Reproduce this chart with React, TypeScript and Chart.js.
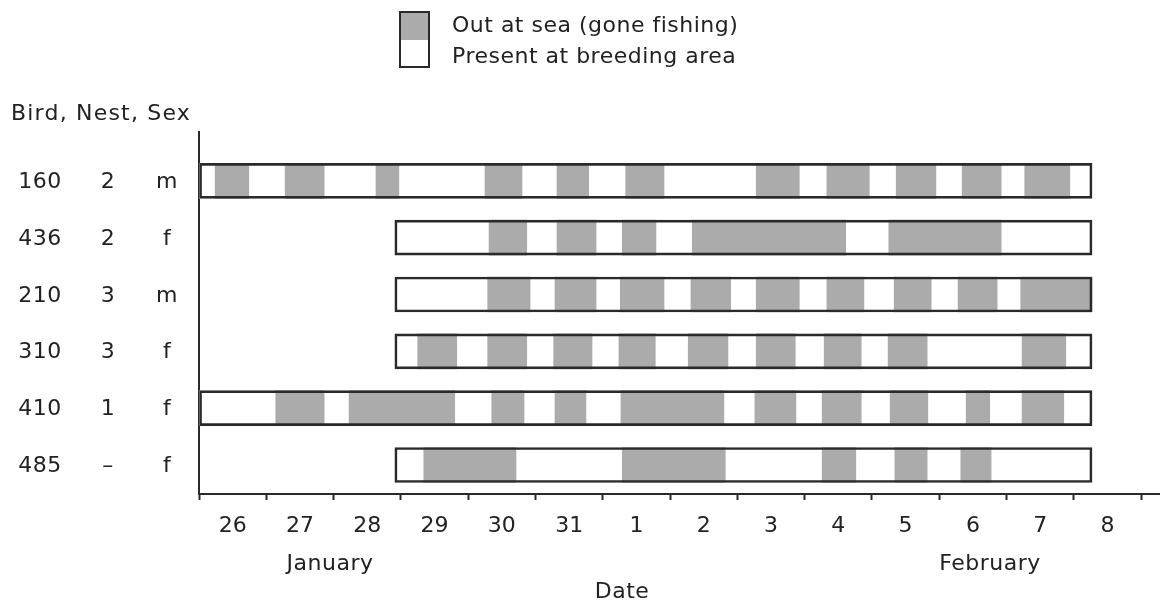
import React, { useEffect, useRef } from 'react';
import { Chart, registerables } from 'chart.js';

Chart.register(...registerables);

// ---- data ----
const dayLabels = ['26', '27', '28', '29', '30', '31', '1', '2', '3', '4', '5', '6', '7', '8'];
const birds = ['160', '436', '210', '310', '410', '485'];
const nests = ['2', '2', '3', '3', '1', '–'];
const sexes = ['m', 'f', 'm', 'f', 'f', 'f'];
// days since start of 26 January
const presence: [number, number][] = [
  [0, 13.27],
  [2.91, 13.27],
  [2.91, 13.27],
  [2.91, 13.27],
  [0, 13.27],
  [2.91, 13.27],
];
const trips160: [number, number][] = [
  [0.24, 0.74], [1.28, 1.86], [2.63, 2.97], [4.25, 4.8], [5.32, 5.79], [6.34, 6.91],
  [8.28, 8.92], [9.33, 9.96], [10.36, 10.95], [11.34, 11.92], [12.27, 12.94],
];
const trips436: [number, number][] = [
  [4.31, 4.87], [5.32, 5.9], [6.29, 6.79], [7.33, 9.61], [10.25, 11.92],
];
const trips210: [number, number][] = [
  [4.29, 4.92], [5.29, 5.9], [6.26, 6.91], [7.31, 7.9], [8.28, 8.92], [9.33, 9.88],
  [10.33, 10.88], [11.28, 11.86], [12.21, 13.27],
];
const trips310: [number, number][] = [
  [3.25, 3.83], [4.29, 4.87], [5.27, 5.84], [6.24, 6.78], [7.27, 7.86], [8.28, 8.86],
  [9.29, 9.84], [10.24, 10.82], [12.23, 12.88],
];
const trips410: [number, number][] = [
  [1.14, 1.86], [2.23, 3.8], [4.35, 4.83], [5.29, 5.75], [6.27, 7.8], [8.26, 8.87],
  [9.26, 9.84], [10.27, 10.83], [11.4, 11.75], [12.23, 12.85],
];
const trips485: [number, number][] = [
  [3.34, 4.71], [6.29, 7.82], [9.26, 9.76], [10.34, 10.82], [11.32, 11.77],
];
const tripsByBird = [trips160, trips436, trips210, trips310, trips410, trips485];

const legendLabels = ['Out at sea (gone fishing)', 'Present at breeding area'];
const monthLabels = ['January', 'February'];
const axisTitle = 'Date';
const headerLabel = 'Bird, Nest, Sex';

const FONT = '"DejaVu Sans", "Liberation Sans", sans-serif';
const TEXT = '#222';
const GRAY = '#ababab';
const LINE = '#2a2a2a';

const extraText = {
  id: 'extraText',
  afterDraw(chart: any) {
    const ctx = chart.ctx as CanvasRenderingContext2D;
    const ys = chart.scales.y;
    ctx.save();
    ctx.fillStyle = TEXT;
    ctx.font = `22px ${FONT}`;
    ctx.textBaseline = 'alphabetic';

    // header
    ctx.textAlign = 'left';
    (ctx as any).letterSpacing = '1.2px';
    ctx.fillText(headerLabel, 11, 120);
    (ctx as any).letterSpacing = '0.5px';

    // row labels
    birds.forEach((b, i) => {
      const py = ys.getPixelForValue(i) + 7;
      ctx.textAlign = 'center';
      ctx.fillText(b, 40, py);
      ctx.fillText(nests[i], 108, py);
      ctx.fillText(sexes[i], 167, py);
    });

    // months and axis title
    ctx.textAlign = 'center';
    ctx.fillText(monthLabels[0], 330, 570);
    ctx.fillText(monthLabels[1], 990, 570);
    ctx.fillText(axisTitle, 622, 598);

    // legend
    const bx = 400, by = 12, bw = 29, bh = 55;
    ctx.fillStyle = '#fff';
    ctx.fillRect(bx, by, bw, bh);
    ctx.fillStyle = GRAY;
    ctx.fillRect(bx, by, bw, 28);
    ctx.strokeStyle = LINE;
    ctx.lineWidth = 2;
    ctx.strokeRect(bx, by, bw, bh);
    ctx.fillStyle = TEXT;
    ctx.textAlign = 'left';
    ctx.fillText(legendLabels[0], 452, 32);
    ctx.fillText(legendLabels[1], 452, 63);
    ctx.restore();
  },
};

export default function App() {
  const ref = useRef<HTMLCanvasElement | null>(null);

  useEffect(() => {
    if (!ref.current) return;
    Chart.defaults.font.family = FONT;
    Chart.defaults.font.size = 22;
    Chart.defaults.color = TEXT;

    const presenceData = presence.map((p, i) => ({ x: p, y: i }));
    const tripData: { x: [number, number]; y: number }[] = [];
    tripsByBird.forEach((trips, i) => trips.forEach((t) => tripData.push({ x: t, y: i })));

    const xTicks: number[] = [];
    for (let v = 0; v <= dayLabels.length; v += 0.5) xTicks.push(v);

    const chart = new Chart(ref.current, {
      type: 'bar',
      data: {
        datasets: [
          {
            label: legendLabels[1] + ' outline',
            data: presenceData as any,
            backgroundColor: 'rgba(0,0,0,0)',
            borderColor: LINE,
            borderWidth: 2,
            borderSkipped: false,
            order: 1,
          },
          {
            label: legendLabels[0],
            data: tripData as any,
            backgroundColor: GRAY,
            borderWidth: 0,
            order: 2,
          },
          {
            label: legendLabels[1],
            data: presenceData as any,
            backgroundColor: '#ffffff',
            borderWidth: 0,
            order: 3,
          },
        ],
      },
      options: {
        indexAxis: 'y',
        animation: false,
        responsive: true,
        maintainAspectRatio: false,
        datasets: { bar: { grouped: false, barThickness: 35 } } as any,
        layout: { padding: { left: 199, top: 132, right: 0, bottom: 54.6 } },
        plugins: { legend: { display: false }, tooltip: { enabled: false }, title: { display: false } },
        scales: {
          x: {
            type: 'linear',
            min: 0,
            max: 14.28,
            offset: false,
            afterBuildTicks: (scale: any) => {
              scale.ticks = xTicks.map((v) => ({ value: v }));
            },
            ticks: {
              autoSkip: false,
              maxRotation: 0,
              padding: 13,
              color: TEXT,
              font: { size: 22, family: FONT },
              callback: (v: any) => {
                const n = Number(v);
                return n % 1 === 0.5 ? dayLabels[Math.floor(n)] : '';
              },
            },
            grid: {
              display: true,
              drawOnChartArea: false,
              drawTicks: true,
              tickLength: 6,
              tickWidth: 2,
              tickColor: (c: any) => (c.tick && c.tick.value % 1 === 0 ? LINE : 'rgba(0,0,0,0)'),
            },
            border: { display: true, color: LINE, width: 2 },
          },
          y: {
            type: 'linear',
            reverse: true,
            offset: false,
            min: -0.86,
            max: 5.51,
            ticks: { display: false },
            grid: { display: true, drawOnChartArea: false, drawTicks: false },
            border: { display: true, color: LINE, width: 2 },
          },
        },
      },
      plugins: [extraText],
    });
    return () => chart.destroy();
  }, []);

  return (
    <div style={{ position: 'fixed', left: 0, top: 0, width: 1160, height: 607, background: '#fff' }}>
      <canvas ref={ref} />
    </div>
  );
}
